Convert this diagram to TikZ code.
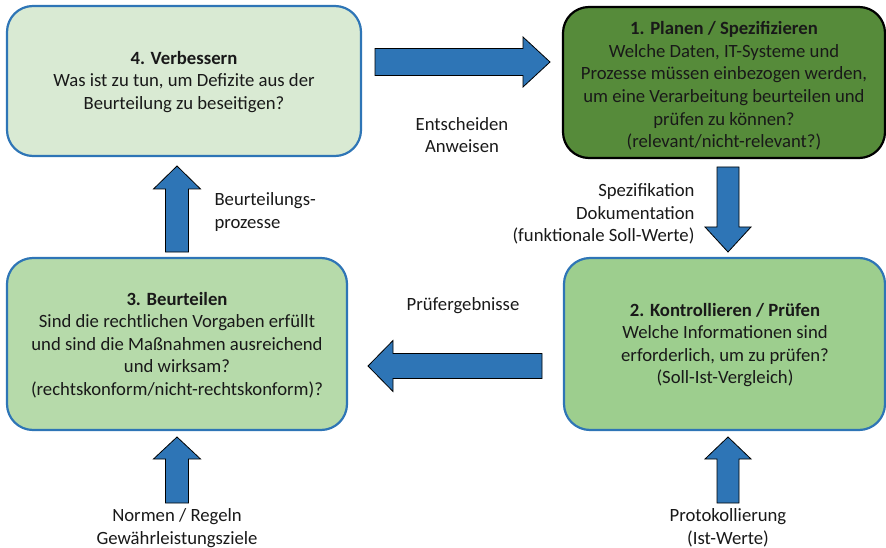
\documentclass[tikz,border=0pt]{standalone}
\usepackage{fontspec}
\setmainfont{Carlito}
\definecolor{bblue}{HTML}{2E75B6}
\definecolor{gOne}{HTML}{568B3A}
\definecolor{gTwo}{HTML}{9DCE8E}
\definecolor{gThree}{HTML}{B6DAAA}
\definecolor{gFour}{HTML}{D9EAD3}
\tikzset{
  phase/.style={draw=bblue, line width=2.2pt, rounded corners=26pt, inner sep=0pt},
  txt/.style={align=center, font=\fontsize{18.7}{22.6}\selectfont, text=black!90},
  barrowstyle/.style={fill=bblue, draw=black, line width=0.8pt, line join=miter},
  pics/barrow/.style n args={4}{code={
    \draw[barrowstyle] (0,-#2/2) -- (#1-#4,-#2/2) -- (#1-#4,-#3/2) -- (#1,0)
      -- (#1-#4,#3/2) -- (#1-#4,#2/2) -- (0,#2/2) -- cycle;}}
}
\begin{document}
\begin{tikzpicture}[x=1pt,y=-1pt]
\useasboundingbox (0,0) rectangle (886,548);
% boxes
\draw[phase, fill=gFour] (7,6) rectangle (361,156);
\draw[phase, fill=gOne, draw=black] (563,7) rectangle (885,158);
\draw[phase, fill=gThree] (7,258) rectangle (347,430);
\draw[phase, fill=gTwo] (564,258) rectangle (885,430);
% texts
\node[txt] (b4) at (184,82) {\textbf{4. Verbessern}\\Was ist zu tun, um Defizite aus der\\Beurteilung zu beseitigen?};
\node[txt] (b1) at (724,86) {\textbf{1. Planen / Spezifizieren}\\Welche Daten, IT-Systeme und\\Prozesse müssen einbezogen werden,\\um eine Verarbeitung beurteilen und\\prüfen zu können?\\(relevant/nicht-relevant?)};
\node[txt] (b3) at (177,345) {\textbf{3. Beurteilen}\\Sind die rechtlichen Vorgaben erfüllt\\und sind die Maßnahmen ausreichend\\und wirksam?\\(rechtskonform/nicht-rechtskonform)?};
\node[txt] (b2) at (725,345) {\textbf{2. Kontrollieren / Prüfen}\\Welche Informationen sind\\erforderlich, um zu prüfen?\\(Soll-Ist-Vergleich)};
% arrows
\pic at (375,62) {barrow={175}{27}{50}{27}};
\pic[rotate=-90] at (728,167) {barrow={85}{22}{46}{25}};
\pic[rotate=180] at (542,366) {barrow={174}{25}{51}{25}};
\pic[rotate=90] at (177,252) {barrow={86}{23}{47}{23}};
\pic[rotate=90] at (177,503) {barrow={66}{23}{47}{22}};
\pic[rotate=90] at (728,503) {barrow={66}{22}{46}{22}};
% labels
\node[txt] (l1) at (462,135) {Entscheiden\\Anweisen};
\node[txt, align=right, anchor=east] (l2) at (698,214) {Spezifikation\\Dokumentation\\(funktionale Soll-Werte)};
\node[txt] (l3) at (463,306) {Prüfergebnisse};
\node[txt, align=left, anchor=west] (l4) at (211,212) {Beurteilungs-\\prozesse};
\node[txt] (l5) at (177,528) {Normen / Regeln\\Gewährleistungsziele};
\node[txt] (l6) at (728,528) {Protokollierung\\(Ist-Werte)};
\end{tikzpicture}
\end{document}
